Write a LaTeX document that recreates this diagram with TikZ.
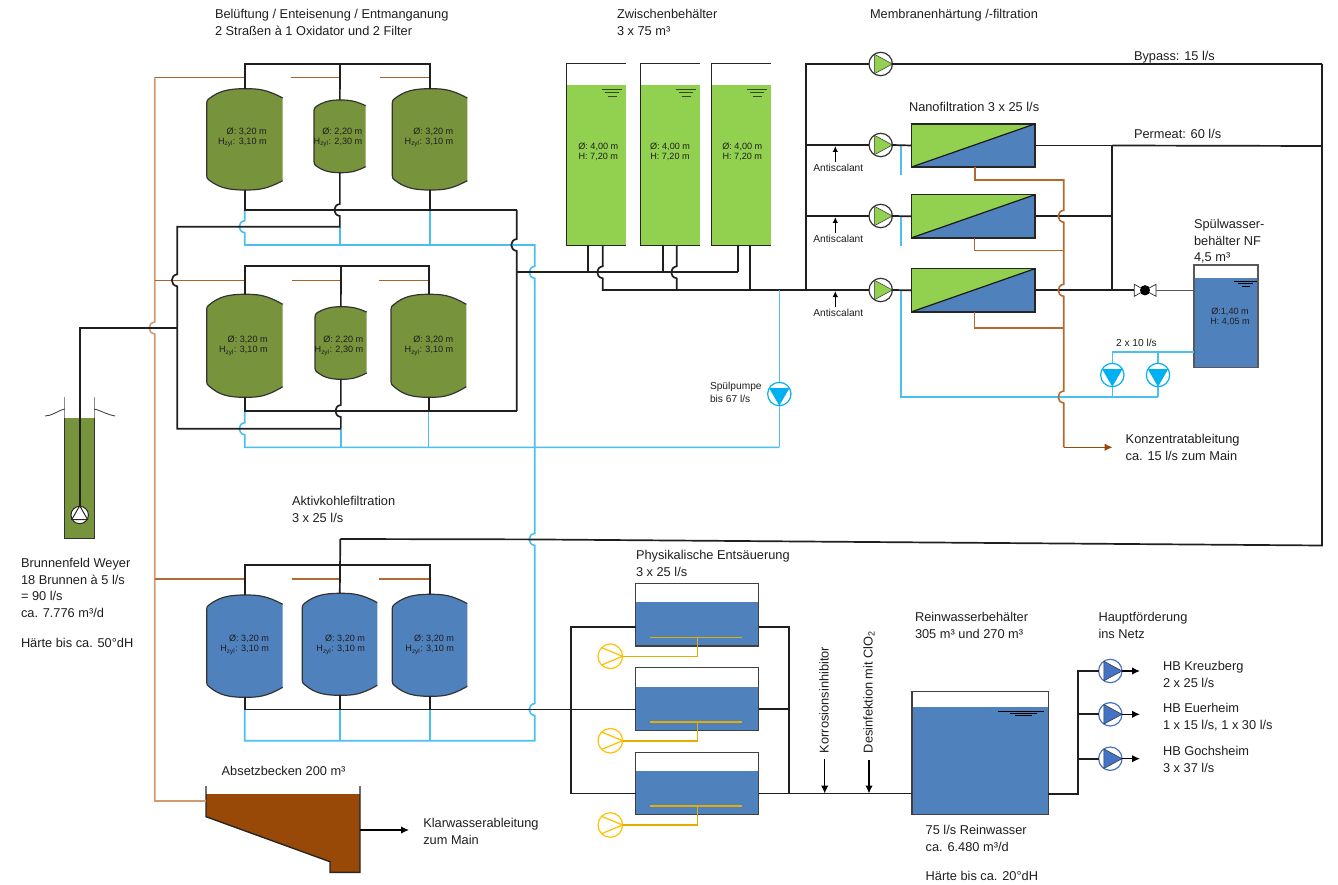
\documentclass[tikz,border=0pt]{standalone}
\usepackage{fontspec}
\setmainfont{Liberation Sans}
\usetikzlibrary{arrows.meta,calc}
\definecolor{olive}{HTML}{77933C}
\definecolor{lgreen}{HTML}{92D050}
\definecolor{wblue}{HTML}{4F81BD}
\definecolor{sludge}{HTML}{984807}
\definecolor{brn}{HTML}{B5692F}
\definecolor{trunkc}{HTML}{CF9B72}
\definecolor{cyanp}{HTML}{49C0F0}
\definecolor{cyanf}{HTML}{00B0F0}
\definecolor{yell}{HTML}{FFC000}
\definecolor{pumpb}{HTML}{4472C4}
\definecolor{txt}{HTML}{1E1E1E}
\tikzset{
 pipe/.style={draw=black!88,line width=1.7pt},
 cyanpipe/.style={draw=cyanp,line width=1.6pt},
 brownpipe/.style={draw=brn,line width=1.6pt},
 trunkpipe/.style={draw=trunkc,line width=1.6pt},
 darkbrown/.style={draw=sludge!85!white,line width=1.5pt},
 air/.style={draw=yell!90!black,line width=1.6pt},
 flowarrow/.style={draw=black,line width=1.3pt,-{Latex[length=8pt,width=7.5pt]}},
 lbl/.style={inner sep=0pt,outer sep=0pt,anchor=north west,align=left,text=txt,font=\fontsize{12.8}{16.8}\selectfont},
 lblsmall/.style={inner sep=0pt,outer sep=0pt,anchor=north west,align=left,text=txt,font=\fontsize{10.2}{12.6}\selectfont},
 tanklbl/.style={inner sep=0pt,outer sep=0pt,anchor=north east,align=right,text=txt,font=\fontsize{9.1}{10.3}\selectfont},
 tankcentre/.style={inner sep=0pt,outer sep=0pt,anchor=north,align=center,text=txt,font=\fontsize{9.1}{10.3}\selectfont},
 boxnode/.style={inner sep=0pt,outer sep=0pt,draw=none},
 pumpnode/.style={circle,inner sep=0pt,outer sep=0pt,minimum size=23.4pt,draw=#1,fill=white,line width=1.2pt},
}
% vertical pipe (downwards) hopping to the left over a crossing at (x,y)
\newcommand\vj[2]{-- (#1,#2-6) .. controls (#1-7.3,#2-5) and (#1-7.3,#2+5) .. (#1,#2+6)}
% domed pressure vessel: name, xl, xr, ytop, yshoulder, ybotshoulder, ybot, colour
\newcommand\tank[8]{%
 \path[fill=#8] (#3,#5) .. controls ({#3-(#3-#2)*.22},{#4+.5}) and ({(#2+#3)/2+(#3-#2)*.18},#4) .. ({(#2+#3)/2},#4)
   .. controls ({(#2+#3)/2-(#3-#2)*.22},#4) and ({#2+(#3-#2)*.16},{#4+2.5}) .. ({#2+2.5},{#5+.5})
   .. controls ({#2+.7},{#5+1.5}) and (#2,{#5+3}) .. (#2,{#5+5}) -- (#2,{#6-5})
   .. controls (#2,{#6-3}) and ({#2+.7},{#6-1.5}) .. ({#2+2.5},{#6-.5})
   .. controls ({#2+(#3-#2)*.16},{#7-2.5}) and ({(#2+#3)/2-(#3-#2)*.22},#7) .. ({(#2+#3)/2},#7)
   .. controls ({(#2+#3)/2+(#3-#2)*.18},#7) and ({#3-(#3-#2)*.22},{#7-.5}) .. (#3,#6) -- cycle;
 \draw[black!80,line width=1.2pt] (#3,#5) .. controls ({#3-(#3-#2)*.22},{#4+.5}) and ({(#2+#3)/2+(#3-#2)*.18},#4) .. ({(#2+#3)/2},#4)
   .. controls ({(#2+#3)/2-(#3-#2)*.22},#4) and ({#2+(#3-#2)*.16},{#4+2.5}) .. ({#2+2.5},{#5+.5})
   .. controls ({#2+.7},{#5+1.5}) and (#2,{#5+3}) .. (#2,{#5+5}) -- (#2,{#6-5})
   .. controls (#2,{#6-3}) and ({#2+.7},{#6-1.5}) .. ({#2+2.5},{#6-.5})
   .. controls ({#2+(#3-#2)*.16},{#7-2.5}) and ({(#2+#3)/2-(#3-#2)*.22},#7) .. ({(#2+#3)/2},#7)
   .. controls ({(#2+#3)/2+(#3-#2)*.18},#7) and ({#3-(#3-#2)*.22},{#7-.5}) .. (#3,#6);
 \node[boxnode,minimum width={(#3-#2)*1pt},minimum height={(#7-#4)*1pt}] (#1) at ({(#2+#3)/2},{(#4+#7)/2}) {};
}
% storage column open at the right: name, xl, xr
\newcommand\column[3]{%
 \fill[lgreen] (#2,85) rectangle (#3,245.3);
 \draw[black!85,line width=1.4pt] (#3,63.7) -- (#2,63.7) -- (#2,245.3) -- (#3,245.3);
 \node[boxnode,minimum width={(#3-#2)*1pt},minimum height=181.6pt] (#1) at ({(#2+#3)/2},154.5) {};
 \draw[black!65!lgreen,line width=.9pt] ({#2+35.4},89.3) -- ({#2+55.7},89.3) ({#2+39},92.7) -- ({#2+53},92.7) ({#2+41.5},96.3) -- ({#2+50.5},96.3);
}
% open basin: name, xl, xr, ytop, ywater, ybottom
\newcommand\basin[6]{%
 \fill[wblue] (#2,#5) rectangle (#3,#6);
 \draw[black!75,line width=1.4pt] (#2,#4) rectangle (#3,#6);
 \node[boxnode,minimum width={(#3-#2)*1pt},minimum height={(#6-#4)*1pt}] (#1) at ({(#2+#3)/2},{(#4+#6)/2}) {};
}
\newcommand\membrane[3]{%
 \node[boxnode,minimum width=123.7pt,minimum height=43.2pt] (#1) at (973.15,#2) {};
 \fill[wblue] (#1.south west) rectangle (#1.north east);
 \fill[lgreen] (#1.south west) -- (#1.north west) -- (#1.north east) -- cycle;
 \draw[black!85,line width=1.4pt] (#1.south west) rectangle (#1.north east);
 \draw[black!90,line width=1.2pt] (#1.south west) -- (#1.north east);
}
\newcommand\pumpright[5]{%
 \node[pumpnode=#4] (#1) at (#2,#3) {};
 \draw[draw=black!80,line width=.5pt,fill=#5] (#1.123) -- (#1.0) -- (#1.237) -- cycle;
}
\newcommand\blower[3]{%
 \node[pumpnode=yell,minimum size=24.6pt] (#1) at (#2,#3) {};
 \draw[yell,line width=1.2pt] (#1.135) -- (#1.0) -- (#1.225);
}
\newcommand\rinsepump[3]{%
 \node[pumpnode=cyanf] (#1) at (#2,#3) {};
 \fill[cyanf] (#1.150) -- (#1.30) -- (#1.270) -- cycle;
}
\begin{document}
\begin{tikzpicture}[x=1pt,y=-1pt]
\useasboundingbox (0,0) rectangle (1338,885);

% ---------- named junctions
\coordinate (Atop) at (340,64);
\coordinate (Btop) at (341,266);
\coordinate (Ctop) at (340.3,565);
\coordinate (Abus) at (516.7,210);
\coordinate (Bbus) at (516.7,411);
\coordinate (Cbus) at (570.7,709.5);
\coordinate (Acyan) at (534.7,245);
\coordinate (Bcyan) at (779.3,447.3);
\coordinate (Ccyan) at (534.7,740.7);
\coordinate (Feed) at (177.3,328);
\coordinate (Mid) at (516.7,272.3);
\coordinate (Raw) at (806,290);
\coordinate (Far) at (1322,545.5);
\coordinate (Perm) at (1112.3,145.5);
\coordinate (Conc) at (1063.7,447.3);
\coordinate (ConcEnd) at (1112.7,447.3);
\coordinate (Rinse) at (901,397);

% ---------- vessels
\tank{A1}{206.7}{282.7}{88.7}{98}{180.7}{190}{olive}
\tank{A2}{314}{365.7}{100}{105.7}{166.7}{172.7}{olive}
\tank{A3}{392.3}{467.3}{88.7}{98}{180.7}{190}{olive}
\tank{B1}{206.7}{282.7}{294.3}{304.3}{386.7}{397.3}{olive}
\tank{B2}{315}{366.7}{306.7}{312}{373}{379.3}{olive}
\tank{B3}{391}{466.3}{294.3}{304.3}{386.7}{397.3}{olive}
\tank{C1}{206.7}{282.7}{595}{604.3}{687.3}{697.3}{wblue}
\tank{C2}{302.3}{377.3}{593.3}{602.6}{685.3}{695.3}{wblue}
\tank{C3}{392.3}{467.3}{594.3}{603.6}{686.3}{696.3}{wblue}
\column{Z1}{566.3}{626}
\column{Z2}{640.3}{700}
\column{Z3}{711.3}{771}
\basin{D1}{635.7}{758.7}{583.3}{602.3}{646}
\basin{D2}{635.7}{758.7}{667.7}{686.7}{730.3}
\basin{D3}{635.7}{758.7}{752.3}{771}{814.7}
\basin{R}{912}{1048.3}{691.3}{707.3}{814.3}
\draw[black,line width=.9pt] (998.3,711.3) -- (1044.3,711.3) (1010,713.5) -- (1036.7,713.5) (1015,715.7) -- (1031.7,715.7);
\fill[wblue] (1194,278) rectangle (1258,367.7);
\draw[black!65,line width=1.4pt] (1194,265) rectangle (1258,367.7);
\node[boxnode,minimum width=64pt,minimum height=102.7pt] (SW) at (1226,316.35) {};
\draw[black,line width=.9pt] (1234,281) -- (1256.7,281) (1238.3,283.7) -- (1252.7,283.7) (1241.7,286.3) -- (1250,286.3);

% settling basin
\fill[sludge] (206,794) -- (360,794) -- (360,872.3) -- (330,872.3) -- (330,861.7) -- (206,816.7) -- cycle;
\draw[black!85,line width=1.4pt] (206,786) -- (206,816.7) -- (330,861.7) -- (330,872.3) -- (360,872.3) -- (360,786);
\coordinate (AbsIn) at (206,801);
\coordinate (AbsOut) at (360,830);
\coordinate (AbsEnd) at (409,830);

% well
\fill[olive] (64.7,418.3) rectangle (94.3,538.3);
\draw[black!45,line width=1.4pt] (64.7,397.3) -- (64.7,418.3) (94.3,397.3) -- (94.3,418.3);
\draw[black!80,line width=1.4pt] (64.7,418.3) -- (64.7,538.3) -- (94.3,538.3) -- (94.3,418.3);
\draw[black!80,line width=.8pt] (45,416) .. controls (52,416) and (57,411) .. (64.7,409);
\draw[black!80,line width=.8pt] (94.3,409) .. controls (102,411) and (108,415) .. (115,416);

% ---------- brown sludge / backwash water
\draw[trunkpipe] (154.7,77.3) \vj{154.7}{328} -- (154.7,801) -- (AbsIn);
\draw[darkbrown] (154.7,77.3) -- (A1.north |- 0,77.3);
\draw[darkbrown] (291,77.3) -- (A2.north |- 0,77.3);
\draw[darkbrown] (380,77.3) -- (A3.north |- 0,77.3);
\draw[darkbrown] (154.7,280.3) -- (B1.north |- 0,280.3);
\draw[darkbrown] (291.7,280.3) -- (B2.north |- 0,280.3);
\draw[darkbrown] (379,280.3) -- (B3.north |- 0,280.3);
\draw[brownpipe] (154.7,579) -- (C1.north |- 0,579);
\draw[brownpipe] (291.7,579) -- (Ctop |- 0,579);
\draw[brownpipe] (379,579) -- (C3.north |- 0,579);

% ---------- cyan wash water
\draw[cyanpipe] (A1.south |- Abus) \vj{244.7}{226.7} -- (244.7,245) -- (Acyan) \vj{534.7}{272.3} \vj{534.7}{539.4} \vj{534.7}{709.5} -- (Ccyan) -- (C1.south |- Ccyan) -- (C1.south |- Cbus);
\draw[cyanpipe] (A2.south |- 0,226.7) -- (A2.south |- Acyan);
\draw[cyanpipe] (A3.south |- Abus) -- (A3.south |- Acyan);
\draw[cyanpipe] (C2.south |- Cbus) -- (C2.south |- Ccyan);
\draw[cyanpipe] (C3.south |- Cbus) -- (C3.south |- Ccyan);
\draw[cyanpipe] (B1.south |- Bbus) \vj{244.7}{428.7} -- (244.7,447.3) -- (Bcyan);
\draw[cyanpipe] (B2.south |- 0,428.7) -- (B2.south |- Bcyan);
\draw[cyanpipe] (B3.south |- Bbus) -- (B3.south |- Bcyan);
\draw[cyanpipe] (901,145) -- (901,175);
\draw[cyanpipe] (901,216) -- (901,246);
\draw[cyanpipe] (901,290) -- (Rinse) -- (1158,397);

% ---------- black process pipes
\draw[pipe] (A1.north) |- (Atop) -| (A3.north);
\draw[pipe] (Atop) -- (A2.north);
\draw[pipe] (A1.south) |- (Abus);
\draw[pipe] (A3.south) -- (A3.south |- Abus);
\draw[pipe] (A2.south) \vj{339.85}{210} -- (339.85,226.7) -- (177.3,226.7) \vj{177.3}{280.3} -- (177.3,428.7) -- (340.85,428.7);
\draw[pipe] (B2.south) \vj{340.85}{411} -- (340.85,428.7);
\draw[pipe] (Abus) \vj{516.7}{245} -- (Bbus);
\draw[pipe] (B1.north) |- (Btop) -| (B3.north);
\draw[pipe] (Btop) -- (B2.north);
\draw[pipe] (B1.south) |- (Bbus);
\draw[pipe] (B3.south) -- (B3.south |- Bbus);
\draw[pipe] (Mid) -- (738,272.3);
\draw[pipe] (588.3,245.3) -- (588.3,272.3);
\draw[pipe] (662.7,245.3) -- (662.7,272.3);
\draw[pipe] (738,245.3) -- (738,272.3);
\draw[pipe] (602.7,245.3) \vj{602.7}{272.3} -- (602.7,290) -- (Raw);
\draw[pipe] (676.7,245.3) \vj{676.7}{272.3} -- (676.7,290);
\draw[pipe] (750,245.3) -- (750,290);
\draw[pipe] (C1.north) |- (Ctop) -| (C3.north);
\draw[pipe] (340.3,539) -- (C2.north);
\draw[pipe] (C1.south) |- (Cbus) -- (D2.west |- Cbus);
\draw[pipe] (C3.south) -- (C3.south |- Cbus);
\draw[pipe] (C2.south) -- (C2.south |- Cbus);
\draw[pipe] (340.3,539) -- (530,539.4) -- (Far) -- (1322,64);

% ---------- pumps and membranes
\pumpright{PB}{880.7}{64}{black!80}{lgreen}
\pumpright{P1}{880.7}{145}{black!80}{lgreen}
\pumpright{P2}{880.7}{216}{black!80}{lgreen}
\pumpright{P3}{880.7}{290}{black!80}{lgreen}
\membrane{M1}{145.5}{}
\membrane{M2}{216.3}{}
\membrane{M3}{290.3}{}
\draw[pipe] (Raw) -- (806,64) -- (PB.west);
\draw[pipe] (PB.east) -- (1322,64);
\draw[pipe] (806,145) -- (P1.west);
\draw[pipe] (806,216) -- (P2.west);
\draw[pipe] (Raw) -- (P3.west);
\draw[pipe] (P1.east) -- (M1.west);
\draw[pipe] (P2.east) -- (M2.west);
\draw[pipe] (P3.east) -- (M3.west);
\draw[pipe] (M1.east) -- (Perm) -- (1112.3,290);
\draw[pipe] (Perm) -- (1322,146);
\draw[pipe] (M2.east) -- (1112.3,216.3);
\draw[pipe] (M3.east) -- (1112.3,290.3);
\draw[brownpipe] (975,167) -- (975,180) -- (1063.7,180) \vj{1063.7}{216.3} \vj{1063.7}{290.3} \vj{1063.7}{397} -- (Conc);
\draw[brownpipe] (974.3,238) -- (974.3,250.7) -- (1063.7,250.7);
\draw[brownpipe] (974.3,312) -- (974.3,327.7) -- (1063.7,327.7);
\draw[brownpipe,-{Latex[length=8pt,width=7.5pt]},draw=sludge] (Conc) -- (ConcEnd);

% valve to rinse tank
\node[circle,fill=black,inner sep=0pt,minimum size=10pt] (V) at (1145,290.3) {};
\draw[black!85,line width=.7pt,fill=white] (1134.3,284.3) -- (1145,290.3) -- (1134.3,296.3) -- cycle;
\draw[black!85,line width=.7pt,fill=white] (1156,284.3) -- (1145,290.3) -- (1156,296.3) -- cycle;
\node[circle,fill=black,inner sep=0pt,minimum size=10pt] (V2) at (1145,290.3) {};
\draw[pipe] (1112.3,290.3) -- (1134.3,290.3);
\draw[draw=black!65,line width=1.2pt] (1156,290.3) -- (SW.west |- V);

% rinse pumps
\rinsepump{N1}{1112.3}{375}
\rinsepump{N2}{1158}{375}
\rinsepump{SP}{779.3}{394}
\draw[cyanpipe] (SW.west |- 0,352) -- (1112.3,352) -- (N1.north);
\draw[cyanpipe] (N2.north) -- (1158,352);
\draw[cyanpipe] (N1.south) -- (1112.3,397);
\draw[cyanpipe] (N2.south) -- (1158,397);
\draw[cyanpipe] (Raw -| SP.north) -- (SP.north);
\draw[cyanpipe] (SP.south) -- (Bcyan);

% well pump
\node[circle,draw=black!85,fill=white,inner sep=0pt,minimum size=17.4pt,line width=1pt] (WP) at (79.7,515) {};
\draw[black!85,line width=1pt,fill=white] (WP.90) -- (WP.210) -- (WP.330) -- cycle;
\draw[pipe] (WP.north) |- (Feed);

% ---------- de-acidification
\coordinate (InT) at (571,627.3);
\coordinate (InB) at (571,793.5);
\coordinate (OutT) at (789.3,627.3);
\coordinate (OutB) at (789.3,793.5);
\coordinate (OutM) at (789.3,709.3);
\draw[pipe] (D1.west |- InT) -- (InT) -- (InB) -- (D3.west |- InB);
\draw[pipe] (D1.east |- OutT) -- (OutT) -- (OutB);
\draw[pipe] (D2.east |- OutM) -- (OutM);
\draw[pipe] (D3.east |- OutB) -- (R.west |- OutB);
\blower{B1a}{610.3}{656.3}
\blower{B2a}{610.3}{740.7}
\blower{B3a}{610.3}{825}
\draw[air] (650,637.3) -- (741.7,637.3);
\draw[air] (697.3,637.3) |- (B1a.east);
\draw[air] (650,721.7) -- (741.7,721.7);
\draw[air] (697.3,721.7) |- (B2a.east);
\draw[air] (650,806) -- (741.7,806);
\draw[air] (697.3,806) |- (B3a.east);

% ---------- net pumps
\coordinate (NetJ) at (1078.3,793.7);
\pumpright{H1}{1110.3}{671}{pumpb}{pumpb}
\pumpright{H2}{1110.3}{714.3}{pumpb}{pumpb}
\pumpright{H3}{1110.3}{758.7}{pumpb}{pumpb}
\draw[pipe] (R.east |- NetJ) -- (NetJ) |- (H1.west);
\draw[pipe] (NetJ |- H2.west) -- (H2.west);
\draw[pipe] (NetJ |- H3.west) -- (H3.west);
\coordinate (H1e) at (1140,671);
\coordinate (H2e) at (1140,714.3);
\coordinate (H3e) at (1140,758.7);
\draw[flowarrow] (H1.east) -- (H1e);
\draw[flowarrow] (H2.east) -- (H2e);
\draw[flowarrow] (H3.east) -- (H3e);
\draw[flowarrow] (AbsOut) -- (AbsEnd);

% ---------- dosing arrows
\node[lblsmall,anchor=north] (Anti1) at (838.3,164) {Antiscalant};
\node[lblsmall,anchor=north] (Anti2) at (838.3,235.5) {Antiscalant};
\node[lblsmall,anchor=north] (Anti3) at (838.3,309.5) {Antiscalant};
\coordinate (a1) at (835.3,161.7); \coordinate (a1e) at (835.3,146);
\coordinate (a2) at (835.3,232.7); \coordinate (a2e) at (835.3,217);
\coordinate (a3) at (835.3,306.7); \coordinate (a3e) at (835.3,291);
\draw[draw=black,line width=1.1pt,-{Latex[length=6pt,width=5.5pt]}] (a1) -- (a1e);
\draw[draw=black,line width=1.1pt,-{Latex[length=6pt,width=5.5pt]}] (a2) -- (a2e);
\draw[draw=black,line width=1.1pt,-{Latex[length=6pt,width=5.5pt]}] (a3) -- (a3e);
\node[lbl,anchor=west,rotate=90] (Korr) at (824,753) {Korrosionsinhibitor};
\node[lbl,anchor=west,rotate=90] (Des) at (869,753) {Desinfektion mit ClO\textsubscript{2}};
\coordinate (k1) at (824.7,759); \coordinate (k2) at (824.7,793.5);
\coordinate (d1) at (869,760); \coordinate (d2) at (869,793.5);
\draw[flowarrow] (k1) -- (k2);
\draw[flowarrow] (d1) -- (d2);

% ---------- vessel texts
\node[tanklbl] (tA1) at (266.7,127.5) {Ø: 3,20 m\\H\textsubscript{zyl}: 3,10 m};
\node[tanklbl] (tA2) at (362.3,127.5) {Ø: 2,20 m\\H\textsubscript{zyl}: 2,30 m};
\node[tanklbl] (tA3) at (453.3,127.5) {Ø: 3,20 m\\H\textsubscript{zyl}: 3,10 m};
\node[tanklbl] (tB1) at (267.7,336) {Ø: 3,20 m\\H\textsubscript{zyl}: 3,10 m};
\node[tanklbl] (tB2) at (363.3,336) {Ø: 2,20 m\\H\textsubscript{zyl}: 2,30 m};
\node[tanklbl] (tB3) at (453.3,336) {Ø: 3,20 m\\H\textsubscript{zyl}: 3,10 m};
\node[tanklbl] (tC1) at (269,635) {Ø: 3,20 m\\H\textsubscript{zyl}: 3,10 m};
\node[tanklbl] (tC2) at (365,635) {Ø: 3,20 m\\H\textsubscript{zyl}: 3,10 m};
\node[tanklbl] (tC3) at (454,635) {Ø: 3,20 m\\H\textsubscript{zyl}: 3,10 m};
\node[tankcentre] (tZ1) at (598.3,142.5) {Ø: 4,00 m\\H: 7,20 m};
\node[tankcentre] (tZ2) at (670,142.5) {Ø: 4,00 m\\H: 7,20 m};
\node[tankcentre] (tZ3) at (742.3,142.5) {Ø: 4,00 m\\H: 7,20 m};
\node[tankcentre] (tSW) at (1230,307.5) {Ø:1,40 m\\H: 4,05 m};

% ---------- labels
\node[lbl] (lBel) at (215,9) {Belüftung / Enteisenung / Entmanganung\\2 Straßen à 1 Oxidator und 2 Filter};
\node[lbl] (lZw) at (617,9) {Zwischenbehälter\\3 x 75 m³};
\node[lbl] (lMem) at (870,9) {Membranenhärtung /-filtration};
\node[lbl] (lByp) at (1134,51) {Bypass: 15 l/s};
\node[lbl] (lPer) at (1134,129) {Permeat: 60 l/s};
\node[lbl] (lNano) at (909,102) {Nanofiltration 3 x 25 l/s};
\node[lbl] (lSpue) at (1194,219) {Spülwasser-\\behälter NF\\4,5 m³};
\node[lblsmall] (l2x) at (1116,339) {2 x 10 l/s};
\node[lbl] (lKonz) at (1125.7,434) {Konzentratableitung\\ca. 15 l/s zum Main};
\node[lblsmall] (lSpp) at (710,382.5) {Spülpumpe\\bis 67 l/s};
\node[lbl] (lBrun) at (21,558) {Brunnenfeld Weyer\\18 Brunnen à 5 l/s\\= 90 l/s\\ca. 7.776 m³/d\\[13pt]Härte bis ca. 50°dH};
\node[lbl] (lAk) at (292,496) {Aktivkohlefiltration\\3 x 25 l/s};
\node[lbl] (lAbs) at (221.7,766) {Absetzbecken 200 m³};
\node[lbl] (lKlar) at (423.3,818) {Klarwasserableitung\\zum Main};
\node[lbl] (lPhy) at (636,550) {Physikalische Entsäuerung\\3 x 25 l/s};
\node[lbl] (lRein) at (915,612) {Reinwasserbehälter\\305 m³ und 270 m³};
\node[lbl] (lHaupt) at (1098.5,612) {Hauptförderung\\ins Netz};
\node[lbl] (lKreuz) at (1163,661) {HB Kreuzberg\\2 x 25 l/s};
\node[lbl] (lEuer) at (1163,703) {HB Euerheim\\1 x 15 l/s, 1 x 30 l/s};
\node[lbl] (lGoch) at (1163,746) {HB Gochsheim\\3 x 37 l/s};
\node[lbl] (lRw) at (925.7,825) {75 l/s Reinwasser\\ca. 6.480 m³/d\\[13pt]Härte bis ca. 20°dH};
\end{tikzpicture}
\end{document}
